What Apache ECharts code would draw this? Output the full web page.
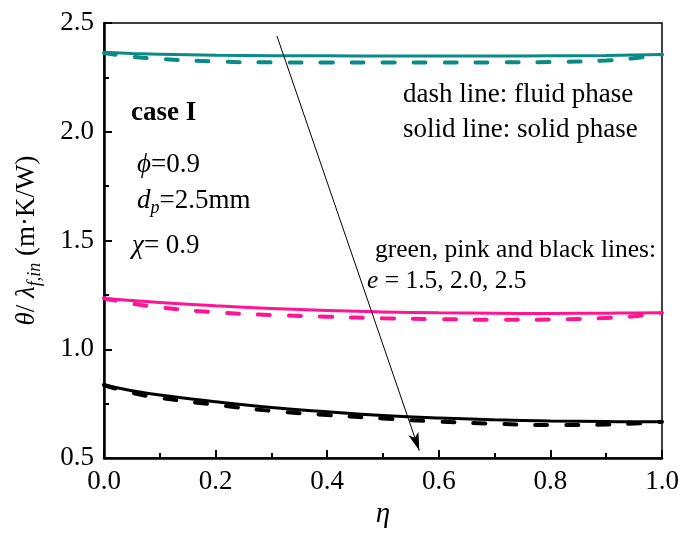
<!DOCTYPE html>
<html><head><meta charset="utf-8">
<script src="https://cdn.jsdelivr.net/npm/echarts@6/dist/echarts.min.js"></script>
<style>html,body{margin:0;padding:0;background:#fff}#c{width:683px;height:534px}</style>
</head><body><div id="c"></div>
<script>
const eta = [0, 0.05, 0.1, 0.2, 0.3, 0.4, 0.5, 0.6, 0.7, 0.8, 0.9, 0.95, 1.0];
const greenSolid = [2.365, 2.36, 2.356, 2.352, 2.35, 2.349, 2.348, 2.348, 2.348, 2.349, 2.351, 2.353, 2.355];
const greenDash  = [2.362, 2.345, 2.335, 2.323, 2.319, 2.318, 2.318, 2.318, 2.319, 2.321, 2.328, 2.338, 2.355];
const pinkSolid  = [1.235, 1.224, 1.215, 1.200, 1.188, 1.178, 1.172, 1.168, 1.166, 1.165, 1.166, 1.167, 1.168];
const pinkDash   = [1.235, 1.21, 1.193, 1.170, 1.158, 1.150, 1.143, 1.139, 1.136, 1.137, 1.144, 1.152, 1.168];
const blackSolid = [0.836, 0.81, 0.79, 0.759, 0.733, 0.713, 0.696, 0.684, 0.676, 0.671, 0.668, 0.667, 0.667];
const blackDash  = [0.836, 0.80, 0.777, 0.745, 0.717, 0.698, 0.682, 0.668, 0.658, 0.652, 0.654, 0.659, 0.667];
const xTickLabels = ['0.0', '0.2', '0.4', '0.6', '0.8', '1.0'];
const yTickLabels = ['0.5', '1.0', '1.5', '2.0', '2.5'];
const arrowFrom = [0.31, 2.44];
const arrowTo = [0.565, 0.535];

const FONT = '"Liberation Serif", "Times New Roman", serif';
const FS = 27;
const FS2 = 25.5;
const GREEN = '#0b8a86', PINK = '#ff1493', BLACK = '#000000';
const pair = arr => eta.map((x, i) => [x, arr[i]]);

function line(name, data, color, dashed) {
  return {
    name, type: 'line', data: pair(data), smooth: true, symbol: 'none',
    lineStyle: dashed ? { color, width: 4, type: [12, 19], cap: 'round' } : { color, width: 3 },
    z: 3
  };
}
const series = [
  line('green solid', greenSolid, GREEN, false),
  line('green dash', greenDash, GREEN, true),
  line('pink solid', pinkSolid, PINK, false),
  line('pink dash', pinkDash, PINK, true),
  line('black solid', blackSolid, BLACK, false),
  line('black dash', blackDash, BLACK, true)
];
series.push({
  type: 'line', data: [], symbol: 'none', silent: true,
  markLine: {
    silent: true, symbol: ['none', 'arrow'], symbolSize: [8, 18],
    label: { show: false },
    lineStyle: { color: '#000', width: 1, type: 'solid' },
    data: [[{ coord: arrowFrom }, { coord: arrowTo }]]
  }
});

const xLabelMap = {}; xTickLabels.forEach(s => xLabelMap[Number(s).toFixed(1)] = s);
const yLabelMap = {}; yTickLabels.forEach(s => yLabelMap[Number(s).toFixed(1)] = s);

const txt = (left, top, text, rich, extra) => ({
  type: 'text', left, top,
  style: Object.assign({ text, font: FS + 'px ' + FONT, fill: '#000', rich: rich || {} }, extra || {})
});
const mkRich = fs => ({
  i: { fontFamily: FONT, fontSize: fs, fontStyle: 'italic', color: '#000' },
  n: { fontFamily: FONT, fontSize: fs, color: '#000' },
  sub: { fontFamily: FONT, fontSize: 18, fontStyle: 'italic', color: '#000', padding: [16, 0, 0, 0] }
});
const richBase = mkRich(FS);
const richSmall = mkRich(FS2);

const option = {
  animation: false,
  backgroundColor: '#fff',
  grid: { left: 104, right: 21, top: 23, bottom: 62, show: true, borderColor: '#000', borderWidth: 1.5 },
  xAxis: {
    type: 'value', min: 0, max: 1, interval: 0.2,
    name: 'η', nameLocation: 'middle', nameGap: 33,
    nameTextStyle: { fontFamily: FONT, fontSize: 29, fontStyle: 'italic', color: '#000' },
    axisLine: { show: true, onZero: false, lineStyle: { color: '#000', width: 2.5 } },
    axisTick: { show: true, inside: true, length: 8, lineStyle: { color: '#000', width: 2 } },
    minorTick: { show: true, splitNumber: 2, length: 5, lineStyle: { color: '#000', width: 2 } },
    splitLine: { show: false },
    axisLabel: { fontFamily: FONT, fontSize: FS, color: '#000', margin: 10,
      formatter: v => xLabelMap[v.toFixed(1)] || '' }
  },
  yAxis: {
    type: 'value', min: 0.5, max: 2.5, interval: 0.5,
    name: '{i|θ}{n|/ }{i|λ}{sub|f,in}{n| (m·K/W)}', nameLocation: 'middle', nameGap: 60, nameRotate: 90,
    nameTextStyle: { fontFamily: FONT, fontSize: FS, color: '#000', rich: richBase },
    axisLine: { show: true, onZero: false, lineStyle: { color: '#000', width: 2.5 } },
    axisTick: { show: true, inside: true, length: 8, lineStyle: { color: '#000', width: 2 } },
    minorTick: { show: true, splitNumber: 2, length: 5, lineStyle: { color: '#000', width: 2 } },
    splitLine: { show: false },
    axisLabel: { fontFamily: FONT, fontSize: FS, color: '#000', margin: 10,
      formatter: v => yLabelMap[v.toFixed(1)] || '' }
  },
  series,
  graphic: [
    txt(131, 100, 'case I', null, { font: 'bold ' + FS + 'px ' + FONT }),
    txt(137, 151, '{i|ϕ}{n|=0.9}', richBase),
    txt(137, 187, '{i|d}{sub|p}{n|=2.5mm}', richBase),
    txt(132, 232, '{i|χ}{n|= 0.9}', richBase),
    txt(403, 81, 'dash line: fluid phase'),
    txt(403, 116, 'solid line: solid phase'),
    txt(375, 237, 'green, pink and black lines:', null, { font: FS2 + 'px ' + FONT }),
    txt(367, 268, '{i|e}{n| = 1.5, 2.0, 2.5}', richSmall)
  ]
};
echarts.init(document.getElementById('c'), null, { renderer: 'canvas' }).setOption(option);
</script></body></html>
